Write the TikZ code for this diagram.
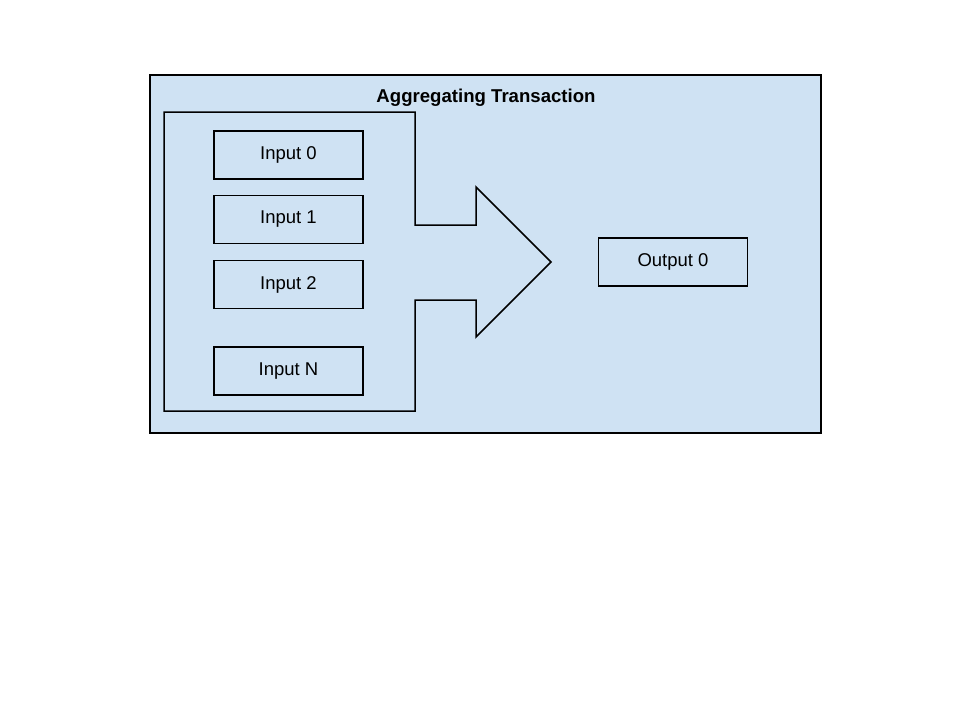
\documentclass[tikz,border=0pt]{standalone}
\usepackage{fontspec}
\setmainfont{Liberation Sans}
\definecolor{boxblue}{HTML}{CFE2F3}
\begin{document}
\begin{tikzpicture}[x=1pt,y=-1pt,
  every node/.style={font=\fontsize{18.5}{21}\selectfont, inner sep=0pt},
  box/.style={draw=black, line width=1.5pt, fill=boxblue, minimum width=149pt, minimum height=48pt},
  frame/.style={draw=black, line width=1.5pt, fill=boxblue}]
\useasboundingbox (0,0) rectangle (960,720);
\fill[white] (0,0) rectangle (960,720);
\node[frame, minimum width=671pt, minimum height=358pt] (outer) at (485.5,254) {};
\node[font=\bfseries\fontsize{18.6}{21}\selectfont] (title) at (486,97.5) {Aggregating Transaction};
\draw[frame, line join=miter] (164,112) coordinate (a1) -- (415,112) -- (415,225) -- (476,225) -- (476,187)
  -- (551,262) coordinate (tip) -- (476,337) -- (476,300) -- (415,300) -- (415,411) -- (164,411) -- cycle;
\node[box] (in0) at (288.5,155) {Input 0};
\node[box] (in1) at (288.5,219.5) {Input 1};
\node[box] (in2) at (288.5,284.5) {Input 2};
\node[box] (inN) at (288.5,371) {Input N};
\node[box] (out0) at (673,262) {Output 0};
\end{tikzpicture}
\end{document}
